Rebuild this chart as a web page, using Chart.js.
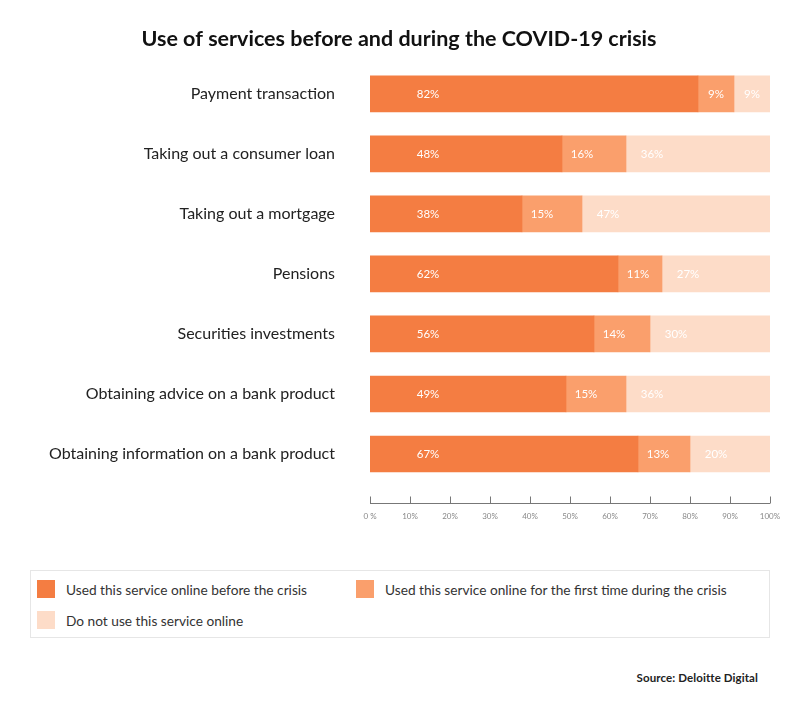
<!DOCTYPE html>
<html>
<head>
<meta charset="utf-8">
<script src="https://cdn.jsdelivr.net/npm/chart.js@4/dist/chart.umd.min.js"></script>
<style>
body{margin:0;background:#fff;font-family:Lato,"Open Sans",sans-serif;}
#wrap{position:relative;width:800px;height:720px;}
#box{position:absolute;left:0;top:0;width:800px;height:544px;}
#legend{position:absolute;left:30px;top:570px;width:738px;height:66px;border:1px solid #e6e6e6;}
.item{position:absolute;display:flex;align-items:center;font-size:13.7px;color:#333;}
.item span{display:inline-block;width:18px;height:18px;margin-right:11px;}
#source{position:absolute;right:42px;top:671px;font-size:11.5px;font-weight:700;color:#222;letter-spacing:0.1px;}
</style>
</head>
<body>
<div id="wrap">
<div id="box"><canvas id="chart"></canvas></div>
<div id="legend"></div>
<div id="source">Source: Deloitte Digital</div>
</div>
<script>
// -----------------------------
// DATA
// -----------------------------
const services = [
"Payment transaction",
"Taking out a consumer loan",
"Taking out a mortgage",
"Pensions",
"Securities investments",
"Obtaining advice on a bank product",
"Obtaining information on a bank product"
];
const usedBefore = [82,48,38,62,56,49,67];
const firstTime  = [9,16,15,11,14,15,13];
const notUsed    = [9,36,47,27,30,36,20];

const seriesNames = [
"Used this service online before the crisis",
"Used this service online for the first time during the crisis",
"Do not use this service online"
];
const colors = ["#f47d42","#fa9f6c","#fddcc8"];

// -----------------------------
// PLUGINS
// -----------------------------
const barLabels = {
id:"barLabels",
afterDatasetsDraw(chart){
const ctx = chart.ctx;
ctx.save();
ctx.font = "11.5px Lato";
ctx.fillStyle = "#fff";
ctx.textAlign = "center";
ctx.textBaseline = "middle";
chart.data.datasets.forEach((ds,i)=>{
const meta = chart.getDatasetMeta(i);
meta.data.forEach((bar,j)=>{
const start = bar.base;
const w = bar.x - bar.base;
let x;
if(i===0) x = start + 58;
else if(i===1) x = start + Math.min(w/2,20);
else x = start + Math.min(w/2,26);
ctx.fillText(ds.data[j]+"%", x, bar.y);
});
});
ctx.restore();
}
};

const bottomAxis = {
id:"bottomAxis",
afterDraw(chart){
const ctx = chart.ctx;
const xs = chart.scales.x;
const y = chart.chartArea.bottom + 19.5;
ctx.save();
ctx.strokeStyle = "#777";
ctx.lineWidth = 1;
ctx.beginPath();
ctx.moveTo(xs.left, y);
ctx.lineTo(xs.right, y);
xs.ticks.forEach(t=>{
const px = Math.round(xs.getPixelForValue(t.value)) + 0.5;
ctx.moveTo(px, y);
ctx.lineTo(px, y - 7);
});
ctx.stroke();
ctx.restore();
}
};

// -----------------------------
// CHART
// -----------------------------
new Chart(document.getElementById("chart"),{
type:"bar",
data:{
labels:services,
datasets:[usedBefore,firstTime,notUsed].map((d,i)=>({
label:seriesNames[i],
data:d,
backgroundColor:colors[i],
borderWidth:0,
barThickness:36
}))
},
options:{
indexAxis:"y",
responsive:true,
maintainAspectRatio:false,
animation:false,
layout:{padding:{left:28,right:30,top:0,bottom:0}},
plugins:{
legend:{display:false},
tooltip:{enabled:false},
title:{
display:true,
text:"Use of services before and during the COVID-19 crisis",
color:"#111",
font:{family:"Lato",size:21.5,weight:"bold",lineHeight:1.2},
padding:{top:26,bottom:12}
}
},
scales:{
x:{
stacked:true,
min:0,
max:100,
grid:{display:false,drawTicks:false},
border:{display:false},
ticks:{
stepSize:10,
padding:28,
color:"#888",
font:{family:"Lato",size:8},
callback:v=> v===0 ? "0 %" : v+"%"
},
afterFit:s=>{s.height=60;s.paddingLeft=0;s.paddingRight=0;}
},
y:{
stacked:true,
grid:{display:false,drawTicks:false},
border:{display:false},
ticks:{
padding:35,
color:"#222",
font:{family:"Lato",size:16}
},
afterFit:s=>{s.width=342;}
}
}
},
plugins:[barLabels,bottomAxis]
});

// -----------------------------
// LEGEND
// -----------------------------
const legend = document.getElementById("legend");
const spots = [[6,9],[325,9],[6,40]];
seriesNames.forEach((name,i)=>{
const div = document.createElement("div");
div.className = "item";
div.style.left = spots[i][0]+"px";
div.style.top = spots[i][1]+"px";
div.innerHTML = `<span style="background:${colors[i]}"></span>${name}`;
legend.appendChild(div);
});
</script>
</body>
</html>
